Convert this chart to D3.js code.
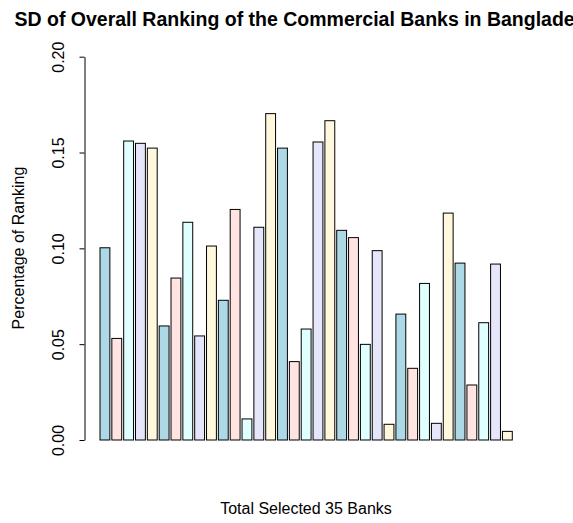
<!DOCTYPE html>
<html>
<head>
<meta charset="utf-8">
<script src="https://cdn.jsdelivr.net/npm/d3@7"></script>
<style>
  body { margin: 0; background: #fff; }
  svg text { font-family: "Liberation Sans", Arial, sans-serif; }
</style>
</head>
<body>
<div id="chart"></div>
<script>
// SD of overall ranking, one value per bank
const banks = d3.range(1, 36).map(i => "Bank " + i);
const sdValues = [
  0.1003, 0.0530, 0.1560, 0.1548, 0.1523, 0.0595, 0.0845, 0.1136, 0.0543, 0.1012,
  0.0729, 0.1203, 0.0110, 0.1110, 0.1703, 0.1523, 0.0409, 0.0579, 0.1555, 0.1666,
  0.1094, 0.1056, 0.0499, 0.0988, 0.0082, 0.0657, 0.0374, 0.0817, 0.0087, 0.1184,
  0.0923, 0.0287, 0.0612, 0.0918, 0.0045
];
const barColors = ["#ADD8E6", "#FFE4E1", "#E0FFFF", "#E6E6FA", "#FFF8DC"];
const yTicks = [0, 0.05, 0.10, 0.15, 0.20];

const width = 573;
const height = 523;

const svg = d3.select("#chart").append("svg")
    .attr("width", width)
    .attr("height", height);

// scales
const xScale = d3.scaleBand()
    .domain(banks)
    .range([100, 512.3])
    .paddingInner(0.2 / 1.2)
    .paddingOuter(0);

const yScale = d3.scaleLinear()
    .domain([0, 0.2])
    .range([440, 56.7]);

// bars
svg.append("g").selectAll("rect")
    .data(sdValues)
    .join("rect")
    .attr("x", (d, i) => xScale(banks[i]))
    .attr("y", d => yScale(d))
    .attr("width", xScale.bandwidth())
    .attr("height", d => yScale(0) - yScale(d))
    .attr("fill", (d, i) => barColors[i % barColors.length])
    .attr("stroke", "#000")
    .attr("stroke-width", 1);

// y axis
const yAxis = svg.append("g")
    .attr("transform", "translate(84.5, 0)")
    .call(d3.axisLeft(yScale).tickValues(yTicks).tickFormat(d3.format(".2f"))
        .tickSize(5).tickSizeOuter(0));

yAxis.select(".domain").attr("stroke", "#000");
yAxis.selectAll(".tick line").attr("stroke", "#000");
yAxis.selectAll(".tick text")
    .attr("transform", "rotate(-90)")
    .attr("x", 0)
    .attr("y", -21)
    .attr("dy", 0)
    .attr("text-anchor", "middle")
    .style("font-size", "16px")
    .attr("fill", "#000");

// title (wider than the window, cut off on the right as in the original)
svg.append("text")
    .attr("x", 306)
    .attr("y", 26)
    .attr("text-anchor", "middle")
    .style("font-size", "19.5px")
    .style("font-weight", "bold")
    .text("SD of Overall Ranking of the Commercial Banks in Bangladesh");

svg.append("text")
    .attr("x", 306)
    .attr("y", 514)
    .attr("text-anchor", "middle")
    .style("font-size", "16px")
    .text("Total Selected 35 Banks");

svg.append("text")
    .attr("transform", "rotate(-90)")
    .attr("x", -248)
    .attr("y", 24)
    .attr("text-anchor", "middle")
    .style("font-size", "16px")
    .text("Percentage of Ranking");
</script>
</body>
</html>
